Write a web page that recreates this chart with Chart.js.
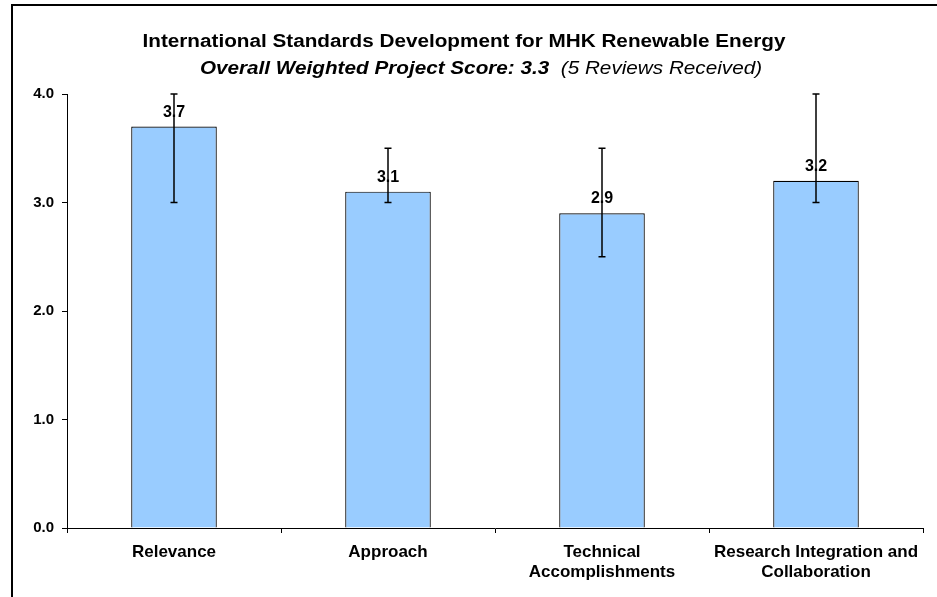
<!DOCTYPE html>
<html>
<head>
<meta charset="utf-8">
<script src="https://cdn.jsdelivr.net/npm/chart.js@4.4.1/dist/chart.umd.min.js"></script>
<style>
  body { margin: 0; background: #fff; }
  canvas { display: block; }
</style>
</head>
<body>
<canvas id="chart" width="937" height="597"></canvas>
<script>
const categories = ["Relevance", "Approach", ["Technical", "Accomplishments"], ["Research Integration and", "Collaboration"]];
const scores = [3.7, 3.1, 2.9, 3.2];
const minScores = [3.0, 3.0, 2.5, 3.0];
const maxScores = [4.0, 3.5, 3.5, 4.0];
const titleText = "International Standards Development for MHK Renewable Energy";
const subtitleBold = "Overall Weighted Project Score: 3.3";
const subtitleNote = "(5 Reviews Received)";

const FONT = 'Arial, "Liberation Sans", sans-serif';

// frame lines + two-style title (text is a bit wider than tall in the original)
const framePlugin = {
  id: "frame",
  afterDraw(chart) {
    const ctx = chart.ctx;
    ctx.save();
    ctx.strokeStyle = "#000";
    ctx.lineWidth = 2;
    ctx.beginPath();
    ctx.moveTo(12, 597);
    ctx.lineTo(12, 5);
    ctx.lineTo(937, 5);
    ctx.stroke();

    const sx = 1.15;
    ctx.fillStyle = "#000";
    ctx.textBaseline = "alphabetic";
    ctx.textAlign = "center";
    ctx.save();
    ctx.translate(464, 47);
    ctx.scale(sx, 1);
    ctx.font = "bold 18px " + FONT;
    ctx.fillText(titleText, 0, 0);
    ctx.restore();

    ctx.textAlign = "left";
    ctx.font = "italic bold 18px " + FONT;
    const w1 = ctx.measureText(subtitleBold + "  ").width;
    ctx.font = "italic 18px " + FONT;
    const w2 = ctx.measureText(subtitleNote).width;
    ctx.save();
    ctx.translate(481, 74);
    ctx.scale(sx, 1);
    const x = -(w1 + w2) / 2;
    ctx.font = "italic bold 18px " + FONT;
    ctx.fillText(subtitleBold, x, 0);
    ctx.font = "italic 18px " + FONT;
    ctx.fillText(subtitleNote, x + w1, 0);
    ctx.restore();
    ctx.restore();
  }
};

// value labels and min/max whiskers
const errorBarPlugin = {
  id: "errorBars",
  afterDatasetsDraw(chart) {
    const ctx = chart.ctx;
    const y = chart.scales.y;
    const meta = chart.getDatasetMeta(0);
    ctx.save();
    ctx.fillStyle = "#000";
    ctx.font = "bold 16px " + FONT;
    ctx.textAlign = "center";
    ctx.textBaseline = "alphabetic";
    meta.data.forEach((bar, i) => {
      ctx.fillText(scores[i].toFixed(1), bar.x, bar.y - 10);
    });
    ctx.strokeStyle = "#000";
    ctx.lineWidth = 1.5;
    meta.data.forEach((bar, i) => {
      const lo = y.getPixelForValue(minScores[i]);
      const hi = y.getPixelForValue(maxScores[i]);
      ctx.beginPath();
      ctx.moveTo(bar.x, lo);
      ctx.lineTo(bar.x, hi);
      ctx.moveTo(bar.x - 3.5, lo);
      ctx.lineTo(bar.x + 3.5, lo);
      ctx.moveTo(bar.x - 3.5, hi);
      ctx.lineTo(bar.x + 3.5, hi);
      ctx.stroke();
    });
    ctx.restore();
  }
};

new Chart(document.getElementById("chart"), {
  type: "bar",
  data: {
    labels: categories,
    datasets: [{
      data: scores,
      backgroundColor: "#99CCFF",
      borderColor: "#000",
      borderWidth: 1.2,
      borderSkipped: "bottom",
      barPercentage: 0.4,
      categoryPercentage: 1.0
    }]
  },
  options: {
    responsive: false,
    animation: false,
    layout: { padding: { top: 94, right: 14, left: 0, bottom: 0 } },
    plugins: {
      legend: { display: false },
      title: { display: false },
      tooltip: { enabled: false }
    },
    scales: {
      x: {
        afterFit(scale) { scale.height = 69; },
        border: { display: true, color: "#000", width: 1 },
        grid: { display: true, drawOnChartArea: false, drawTicks: true, tickLength: 5, color: "#000", offset: true },
        ticks: {
          color: "#000",
          font: { family: FONT, size: 17, weight: "bold", lineHeight: 1.18 },
          padding: 9,
          maxRotation: 0,
          autoSkip: false
        }
      },
      y: {
        min: 0,
        max: 4,
        afterFit(scale) { scale.width = 67; },
        border: { display: true, color: "#000", width: 1 },
        grid: { display: true, drawOnChartArea: false, drawTicks: true, tickLength: 5, color: "#000" },
        ticks: {
          stepSize: 1,
          color: "#000",
          padding: 8,
          font: { family: FONT, size: 15, weight: "bold" },
          callback: (v) => v.toFixed(1)
        }
      }
    }
  },
  plugins: [framePlugin, errorBarPlugin]
});
</script>
</body>
</html>
